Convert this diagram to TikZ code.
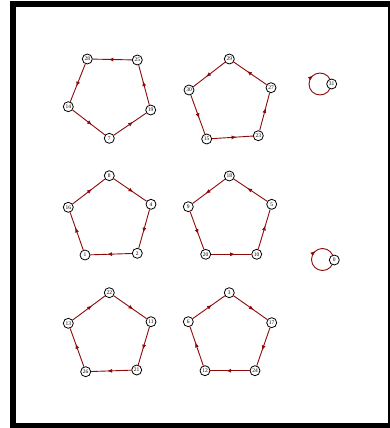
\documentclass[tikz,border=0pt]{standalone}
\usepackage{fontspec}
\setmainfont{Liberation Serif}
\usetikzlibrary{arrows.meta,decorations.markings}
\definecolor{edgered}{RGB}{140,10,10}
\tikzset{
  vtx/.style={circle,draw=black,line width=0.8pt,fill=white,minimum size=10pt,inner sep=0pt,font=\fontsize{5.5}{5.5}\selectfont},
  edge/.style={draw=edgered,line width=0.9pt,postaction={decorate},
    decoration={markings,mark=at position 0.6 with {\arrow[edgered]{Latex[length=5pt,width=4pt]}}}},
  loopedge/.style={draw=edgered,line width=0.9pt,postaction={decorate},
    decoration={markings,mark=at position 0.64 with {\arrow[edgered]{Latex[length=5pt,width=4pt]}}}},
}
\begin{document}
\begin{tikzpicture}[x=1pt,y=-1pt]
\useasboundingbox (0,0) rectangle (390,428);
\clip (0,0) rectangle (390,428);
\draw[line width=6pt] (13,4) rectangle (391,425.7);
% group 1
\node[vtx] (n28) at (87.3,59) {28};
\node[vtx] (n25) at (137.3,60) {25};
\node[vtx] (n19) at (150.7,110) {19};
\node[vtx] (n7) at (109.3,138.3) {7};
\node[vtx] (n14) at (68.3,106.7) {14};
\draw[edge] (n25) -- (n28);
\draw[edge] (n28) -- (n14);
\draw[edge] (n14) -- (n7);
\draw[edge] (n7) -- (n19);
\draw[edge] (n19) -- (n25);
% group 2
\node[vtx] (n29) at (229.3,59) {29};
\node[vtx] (n27) at (271,87.7) {27};
\node[vtx] (n23) at (258.3,135.7) {23};
\node[vtx] (n15) at (206.7,139) {15};
\node[vtx] (n30) at (189,90) {30};
\draw[edge] (n29) -- (n30);
\draw[edge] (n30) -- (n15);
\draw[edge] (n15) -- (n23);
\draw[edge] (n23) -- (n27);
\draw[edge] (n27) -- (n29);
% group 3
\coordinate (c31) at (320,84);
\draw[loopedge] (c31) circle (11);
\node[vtx] (n31) at (331.7,84) {31};
% group 4
\node[vtx] (n8) at (109.3,175.7) {8};
\node[vtx] (n4) at (151,204.3) {4};
\node[vtx] (n2) at (137.3,253.3) {2};
\node[vtx] (n1) at (85,255) {1};
\node[vtx] (n16) at (68.3,207.3) {16};
\draw[edge] (n8) -- (n4);
\draw[edge] (n4) -- (n2);
\draw[edge] (n2) -- (n1);
\draw[edge] (n1) -- (n16);
\draw[edge] (n16) -- (n8);
% group 5
\node[vtx] (n18) at (229.3,176) {18};
\node[vtx] (n5) at (271.7,204.3) {5};
\node[vtx] (n10) at (256.7,254.3) {10};
\node[vtx] (n20) at (205.7,254.3) {20};
\node[vtx] (n9) at (188.3,206.7) {9};
\draw[edge] (n18) -- (n9);
\draw[edge] (n9) -- (n20);
\draw[edge] (n20) -- (n10);
\draw[edge] (n10) -- (n5);
\draw[edge] (n5) -- (n18);
% group 6
\coordinate (c0) at (322.5,259.5);
\draw[loopedge] (c0) circle (11);
\node[vtx] (n0) at (334.3,260) {0};
% group 7
\node[vtx] (n22) at (109.3,292.7) {22};
\node[vtx] (n11) at (151,321.7) {11};
\node[vtx] (n21) at (136.7,370) {21};
\node[vtx] (n26) at (85.7,371.7) {26};
\node[vtx] (n13) at (68.3,323.3) {13};
\draw[edge] (n22) -- (n11);
\draw[edge] (n11) -- (n21);
\draw[edge] (n21) -- (n26);
\draw[edge] (n26) -- (n13);
\draw[edge] (n13) -- (n22);
% group 8
\node[vtx] (n3) at (229.3,292.7) {3};
\node[vtx] (n17) at (271.7,322.7) {17};
\node[vtx] (n24) at (255,370.7) {24};
\node[vtx] (n12) at (205,370.7) {12};
\node[vtx] (n6) at (188.3,321.7) {6};
\draw[edge] (n3) -- (n17);
\draw[edge] (n17) -- (n24);
\draw[edge] (n24) -- (n12);
\draw[edge] (n12) -- (n6);
\draw[edge] (n6) -- (n3);
\end{tikzpicture}
\end{document}
